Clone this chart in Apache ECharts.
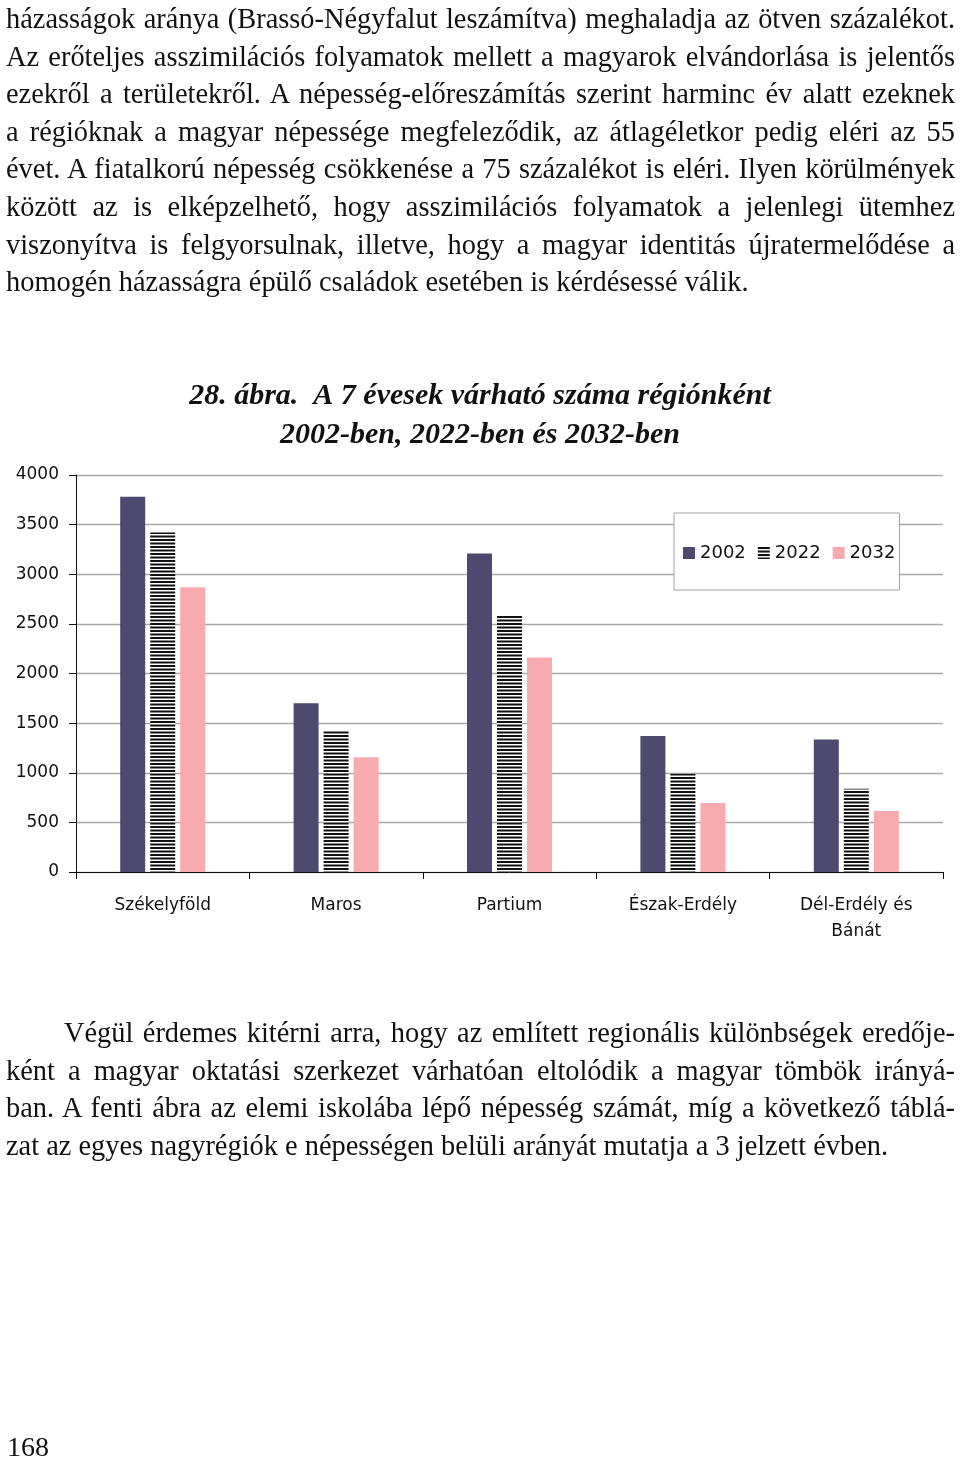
<!DOCTYPE html>
<html>
<head>
<meta charset="utf-8">
<script src="https://cdn.jsdelivr.net/npm/echarts@6/dist/echarts.min.js"></script>
<style>
  html, body { margin: 0; padding: 0; background: #fff; }
  #page { position: relative; width: 960px; height: 1460px; overflow: hidden; }
  #chart { position: absolute; left: 0; top: 0; width: 960px; height: 1460px; }
  .txt { position: absolute; left: 6px; width: 949px; font-family: "Liberation Serif", serif; font-size: 28.4px; color: #111; }
  .txt div { height: 37.6px; line-height: 37.6px; text-align: justify; text-align-last: justify; white-space: nowrap; }
  .txt div.last { text-align-last: left; }
  #pageno { position: absolute; left: 7px; top: 1431px; font-family: "Liberation Serif", serif; font-size: 28px; color: #111; }
</style>
</head>
<body>
<div id="page">
  <div id="chart"></div>
  <div class="txt" style="top:0px">
    <div>házasságok aránya (Brassó-Négyfalut leszámítva) meghaladja az ötven százalékot.</div>
    <div>Az erőteljes asszimilációs folyamatok mellett a magyarok elvándorlása is jelentős</div>
    <div>ezekről a területekről. A népesség-előreszámítás szerint harminc év alatt ezeknek</div>
    <div>a régióknak a magyar népessége megfeleződik, az átlagéletkor pedig eléri az 55</div>
    <div>évet. A fiatalkorú népesség csökkenése a 75 százalékot is eléri. Ilyen körülmények</div>
    <div>között az is elképzelhető, hogy asszimilációs folyamatok a jelenlegi ütemhez</div>
    <div>viszonyítva is felgyorsulnak, illetve, hogy a magyar identitás újratermelődése a</div>
    <div class="last">homogén házasságra épülő családok esetében is kérdésessé válik.</div>
  </div>
  <div class="txt" style="top:1014px">
    <div style="padding-left:58px">Végül érdemes kitérni arra, hogy az említett regionális különbségek eredője-</div>
    <div>ként a magyar oktatási szerkezet várhatóan eltolódik a magyar tömbök irányá-</div>
    <div>ban. A fenti ábra az elemi iskolába lépő népesség számát, míg a következő táblá-</div>
    <div class="last">zat az egyes nagyrégiók e népességen belüli arányát mutatja a 3 jelzett évben.</div>
  </div>
  <div id="pageno">168</div>
</div>
<script>
const regions = ['Székelyföld', 'Maros', 'Partium', 'Észak-Erdély', 'Dél-Erdély és\nBánát'];
const years = ['2002', '2022', '2032'];
const values2002 = [3780, 1700, 3210, 1370, 1335];
const values2022 = [3420, 1425, 2580, 990, 840];
const values2032 = [2870, 1155, 2160, 695, 615];
const yTicks = [0, 500, 1000, 1500, 2000, 2500, 3000, 3500, 4000];

// horizontal black stripes for the 2022 bars
function stripes() {
  const c = document.createElement('canvas');
  c.width = 4;
  c.height = 7;
  const g = c.getContext('2d');
  g.fillStyle = '#fff';
  g.fillRect(0, 0, 4, 7);
  g.fillStyle = '#111';
  g.fillRect(0, 0, 4, 2);
  g.fillRect(0, 3.5, 4, 2);
  return c;
}

const chart = echarts.init(document.getElementById('chart'));
const font = 'DejaVu Sans';
const option = {
  animation: false,
  title: {
    left: 'center',
    top: 372,
    text: '{a|28. ábra.}{b|  A 7 évesek várható száma régiónként}\n{b|2002-ben, 2022-ben és 2032-ben}',
    textStyle: {
      lineHeight: 39,
      rich: {
        a: { fontFamily: 'Liberation Serif', fontStyle: 'italic', fontSize: 30, color: '#111', lineHeight: 39 },
        b: { fontFamily: 'Liberation Serif', fontStyle: 'italic', fontWeight: 'bold', fontSize: 30, color: '#111', lineHeight: 39 }
      }
    }
  },
  legend: {
    left: 674,
    top: 513,
    orient: 'horizontal',
    padding: [31, 4, 28, 9],
    itemGap: 12,
    itemWidth: 12,
    itemHeight: 12,
    icon: 'rect',
    backgroundColor: '#fff',
    borderColor: '#a0a0a0',
    borderWidth: 1,
    z: 10,
    textStyle: { fontFamily: font, fontSize: 18, color: '#111' },
    data: years
  },
  grid: { left: 76, right: 17, top: 475, bottom: 588, containLabel: false },
  xAxis: {
    type: 'category',
    data: regions,
    axisLine: { lineStyle: { color: '#111', width: 1 } },
    axisTick: { show: true, length: 7, lineStyle: { color: '#111' } },
    axisLabel: { fontFamily: font, fontSize: 17, color: '#111', margin: 21, lineHeight: 26, interval: 0 }
  },
  yAxis: {
    type: 'value',
    min: 0,
    max: 4000,
    interval: 500,
    axisLine: { show: true, lineStyle: { color: '#111', width: 1 } },
    axisTick: { show: true, length: 7, lineStyle: { color: '#111' } },
    axisLabel: {
      fontFamily: font, fontSize: 17, color: '#111', margin: 17,
      formatter: v => yTicks.includes(v) ? String(v) : ''
    },
    splitLine: { lineStyle: { color: '#a8a8a8', width: 1.3 } }
  },
  series: [
    {
      name: years[0], type: 'bar', data: values2002, barWidth: 25, barGap: '20%',
      itemStyle: { color: '#4d496f' }
    },
    {
      name: years[1], type: 'bar', data: values2022, barWidth: 25, barGap: '20%',
      itemStyle: { color: { image: stripes(), repeat: 'repeat' } }
    },
    {
      name: years[2], type: 'bar', data: values2032, barWidth: 25, barGap: '20%',
      itemStyle: { color: '#f8abae' }
    }
  ]
};
chart.setOption(option);
</script>
</body>
</html>
